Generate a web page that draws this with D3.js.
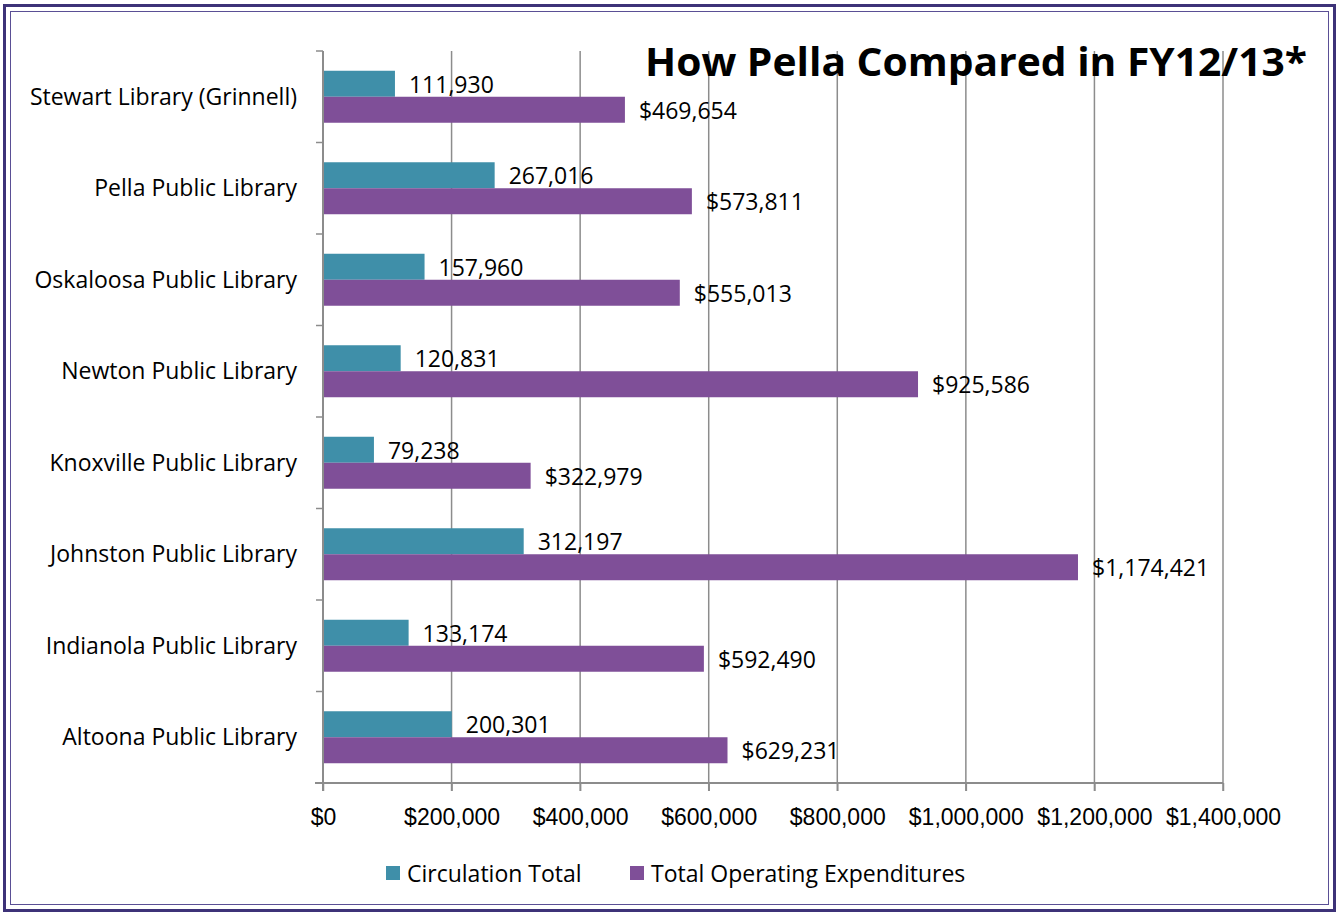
<!DOCTYPE html>
<html>
<head>
<meta charset="utf-8">
<script src="https://cdn.jsdelivr.net/npm/d3@7"></script>
<style>
  body { margin: 0; background: #fff; }
  svg { display: block; font-family: "Open Sans", sans-serif; }
</style>
</head>
<body>
<div class="container"></div>
<script>
var WIDTH = 1338, HEIGHT = 913;

var libraries = ["Stewart Library (Grinnell)", "Pella Public Library", "Oskaloosa Public Library",
  "Newton Public Library", "Knoxville Public Library", "Johnston Public Library",
  "Indianola Public Library", "Altoona Public Library"];
var circulation = [111930, 267016, 157960, 120831, 79238, 312197, 133174, 200301];
var expenditures = [469654, 573811, 555013, 925586, 322979, 1174421, 592490, 629231];
var seriesNames = ["Circulation Total", "Total Operating Expenditures"];
var colors = ["#3f8fa9", "#7f4f98"];
var xTicks = [0, 200000, 400000, 600000, 800000, 1000000, 1200000, 1400000];

var FONT = 23;

var svg = d3.select(".container").append("svg")
  .attr("width", WIDTH).attr("height", HEIGHT);

// frame: thick outer + thin inner line
svg.append("rect").attr("x", 4.5).attr("y", 5.5).attr("width", 1330).attr("height", 905)
  .attr("fill", "none").attr("stroke", "#3d3278").attr("stroke-width", 3);
svg.append("rect").attr("x", 10.5).attr("y", 11.5).attr("width", 1318).attr("height", 893)
  .attr("fill", "none").attr("stroke", "#5a4f95").attr("stroke-width", 1);

var x = d3.scaleLinear().domain([0, 1400000]).range([323, 1223]);
var y = d3.scaleBand().domain(libraries).range([51, 783]).paddingInner(0).paddingOuter(0);
var sub = d3.scaleBand().domain(seriesNames).range([0, y.bandwidth()]).paddingOuter(0.76).paddingInner(0);

var g = svg.append("g");

// gridlines
g.selectAll(".grid").data(xTicks.slice(1)).enter().append("line")
  .attr("x1", function(d){ return x(d); }).attr("x2", function(d){ return x(d); })
  .attr("y1", 51).attr("y2", 791)
  .attr("stroke", "#8c8c8c").attr("stroke-width", 1.5);

// x axis
var xAxis = d3.axisBottom(x).tickValues(xTicks).tickSize(8).tickPadding(18)
  .tickFormat(function(d){ return "$" + d3.format(",")(d); });
var xg = g.append("g").attr("transform", "translate(0,783)").call(xAxis);
xg.select(".domain").attr("d", "M315,0H1223").attr("stroke", "#8c8c8c").attr("stroke-width", 2);
xg.selectAll(".tick line").attr("stroke", "#8c8c8c").attr("stroke-width", 1.5);
xg.selectAll("text").attr("font-size", FONT).attr("fill", "#000");

// y axis: ticks at category boundaries
var bounds = libraries.map(function(d){ return y(d); }).concat([783]);
g.selectAll(".ytick").data(bounds).enter().append("line")
  .attr("x1", 316).attr("x2", 323)
  .attr("y1", function(d){ return d; }).attr("y2", function(d){ return d; })
  .attr("stroke", "#8c8c8c").attr("stroke-width", 1.5);
g.append("line").attr("x1", 323).attr("x2", 323).attr("y1", 51).attr("y2", 791)
  .attr("stroke", "#8c8c8c").attr("stroke-width", 2);

g.selectAll(".ylab").data(libraries).enter().append("text")
  .attr("x", 297).attr("y", function(d){ return y(d) + y.bandwidth() / 2; })
  .attr("dy", "0.35em").attr("text-anchor", "end")
  .attr("font-size", FONT).attr("fill", "#000").text(function(d){ return d; });

// bars
var series = [circulation, expenditures];
series.forEach(function(vals, si){
  var name = seriesNames[si];
  g.selectAll(".bar" + si).data(vals).enter().append("rect")
    .attr("x", x(0) + 1)
    .attr("y", function(d, i){ return y(libraries[i]) + sub(name); })
    .attr("width", function(d){ return x(d) - x(0) - 1; })
    .attr("height", sub.bandwidth())
    .attr("fill", colors[si]);
  g.selectAll(".lab" + si).data(vals).enter().append("text")
    .attr("x", function(d){ return x(d) + 14; })
    .attr("y", function(d, i){ return y(libraries[i]) + sub(name) + sub.bandwidth() / 2 + 1; })
    .attr("dy", "0.35em").attr("font-size", FONT).attr("fill", "#000")
    .text(function(d){ return (si === 1 ? "$" : "") + d3.format(",")(d); });
});

// title
svg.append("text").attr("x", 645).attr("y", 76)
  .attr("font-size", 40).attr("font-weight", "bold").attr("fill", "#000")
  .attr("textLength", 662).attr("lengthAdjust", "spacingAndGlyphs")
  .text("How Pella Compared in FY12/13*");

// legend
var legendX = [386, 630];
seriesNames.forEach(function(name, i){
  svg.append("rect").attr("x", legendX[i]).attr("y", 866).attr("width", 14).attr("height", 14)
    .attr("fill", colors[i]);
  svg.append("text").attr("x", legendX[i] + 21).attr("y", 874).attr("dy", "0.35em")
    .attr("font-size", FONT).attr("fill", "#000").text(name);
});
</script>
</body>
</html>
